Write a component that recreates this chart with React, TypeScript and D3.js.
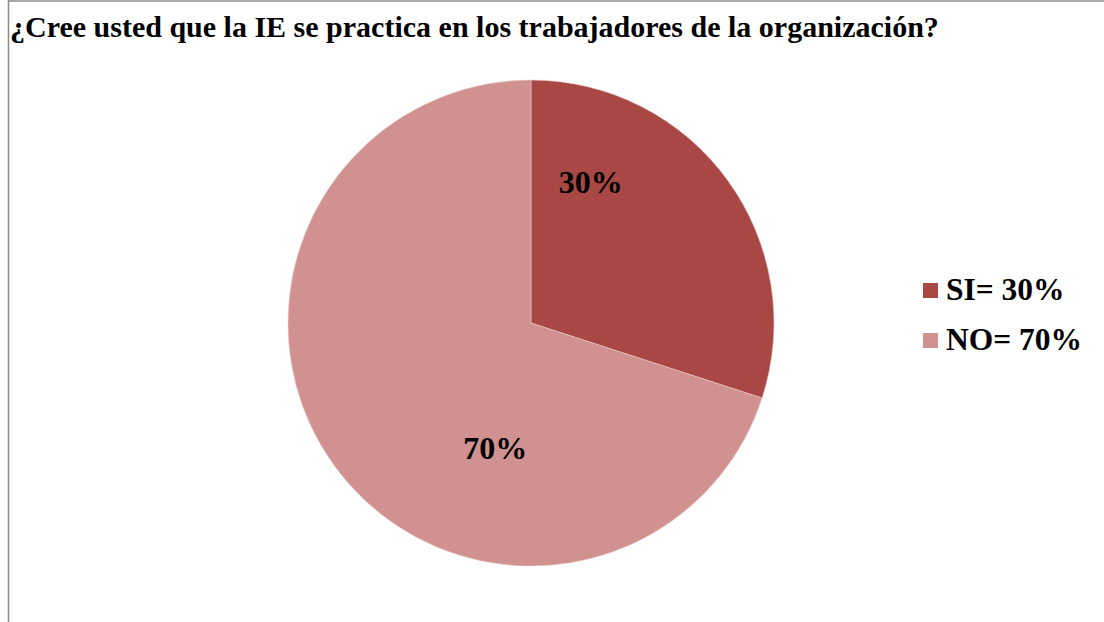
import React from 'react';
import * as d3 from 'd3';

const categories = ['SI', 'NO'];
const values = [30, 70];
const legendLabels = ['SI= 30%', 'NO= 70%'];
const sliceLabels = ['30%', '70%'];
const colors = ['#A94744', '#D19190'];

const title = '¿Cree usted que la IE se practica en los trabajadores de la organización?';

// where Excel dropped the data labels, as (angle in degrees from top, fraction of radius)
const labelSpots = [
    { angle: 23, r: 0.63 },
    { angle: 196, r: 0.535 }
];

export default function App() {
    const width = 1104, height = 622;
    const cx = 531, cy = 323, radius = 243;

    const pie = d3.pie<number>().sort(null).value(d => d);
    const arcs = pie(values);
    const arc = d3.arc<d3.PieArcDatum<number>>().innerRadius(0).outerRadius(radius);

    const font = '"Liberation Serif", "Times New Roman", serif';

    return (
        <svg width={width} height={height}
            style={{ position: 'absolute', left: 0, top: 0, background: '#fff' }}>
            <line x1={8.5} y1={0} x2={8.5} y2={height} stroke="#8c8c8c" strokeWidth={1.5} />
            <line x1={8} y1={1} x2={width} y2={1} stroke="#8c8c8c" strokeWidth={1.5} />
            <text x={10} y={37} fontFamily={font} fontWeight="bold" fontSize={30}>{title}</text>
            <g transform={`translate(${cx},${cy})`}>
                {arcs.map((a, i) => (
                    <path key={categories[i]} d={arc(a) || ''} fill={colors[i]}
                        stroke="#e8c8c6" strokeWidth={0.6} />
                ))}
                {arcs.map((a, i) => {
                    const s = labelSpots[i];
                    const t = s.angle * Math.PI / 180;
                    const x = Math.sin(t) * radius * s.r;
                    const y = -Math.cos(t) * radius * s.r;
                    return (
                        <text key={'l' + i} x={x} y={y} dy="0.35em" textAnchor="middle"
                            fontFamily={font} fontWeight="bold" fontSize={32}>{sliceLabels[i]}</text>
                    );
                })}
            </g>
            {legendLabels.map((l, i) => (
                <g key={l} transform={`translate(923,${283 + i * 50})`}>
                    <rect x={0} y={0} width={15} height={15} fill={colors[i]} />
                    <text x={23} y={16.5} fontFamily={font} fontWeight="bold" fontSize={31.5}>{l}</text>
                </g>
            ))}
        </svg>
    );
}
